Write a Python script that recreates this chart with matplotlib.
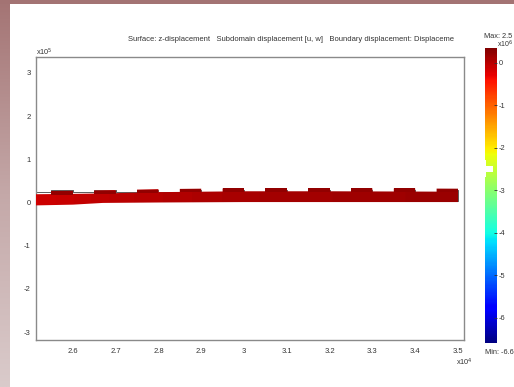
import numpy as np
import matplotlib
matplotlib.use("Agg")
import matplotlib.pyplot as plt
from matplotlib.path import Path
from matplotlib.patches import PathPatch, Rectangle
from matplotlib.colors import Normalize, LinearSegmentedColormap
from matplotlib import cm

plt.rcParams['font.family'] = ['Liberation Sans', 'DejaVu Sans']

# ---- data (x in 1e4, y in 1e5) ----
x_ticks = [2.6, 2.7, 2.8, 2.9, 3.0, 3.1, 3.2, 3.3, 3.4, 3.5]
x_tick_labels = ["2.6", "2.7", "2.8", "2.9", "3", "3.1", "3.2", "3.3", "3.4", "3.5"]
y_ticks = [3, 2, 1, 0, -1, -2, -3]
y_tick_labels = ["3", "2", "1", "0", "-1", "-2", "-3"]

# deformed beam: bottom / top edge along x
beam_x = [2.50, 2.60, 2.67, 2.80, 3.00, 3.20, 3.50]
beam_bottom = [-0.07, -0.05, -0.01, 0.00, 0.01, 0.01, 0.01]
beam_top = [0.19, 0.20, 0.21, 0.24, 0.26, 0.26, 0.25]
# raised pads on top of the beam
pad_start = [2.55, 2.65, 2.75, 2.85, 2.95, 3.05, 3.15, 3.25, 3.35, 3.45]
pad_width = 0.05
pad_height = 0.07
# undeformed outline
ref_bottom = 0.03
ref_top = 0.235
ref_pad = 0.285
# z-displacement colour data along the beam
zdisp_x = [2.50, 2.70, 3.00, 3.50]
zdisp = [-0.15, -0.02, 0.10, 0.18]
pad_zdisp = 0.24

cbar_min, cbar_max = -6.6, 0.35
cbar_ticks = [0, -1, -2, -3, -4, -5, -6]
slider_value = -2.5

W, H = 514, 387
fig = plt.figure(figsize=(W / 100, H / 100), dpi=100)
fig.patch.set_facecolor("white")

# slide frame: top band and shaded left band
fig.patches.append(Rectangle((0, 1 - 4 / H), 1, 4 / H, transform=fig.transFigure,
                             facecolor="#a37373", edgecolor="none", zorder=0))
band = fig.add_axes([0, 0, 10 / W, 1])
grad = np.linspace(0, 1, 256)[:, None]
band_cmap = LinearSegmentedColormap.from_list("band", ["#a47474", "#c4a8a8", "#dacbcb"])
band.imshow(grad, aspect="auto", cmap=band_cmap, extent=[0, 1, 1, 0])
band.set_axis_off()

ax = fig.add_axes([36 / W, 1 - 340 / H, 428 / W, 283 / H])
for s in ax.spines.values():
    s.set_color("#8a8a8a")
    s.set_linewidth(1.0)
ax.set_xticks(x_ticks)
ax.set_xticklabels(x_tick_labels)
ax.set_yticks(y_ticks)
ax.set_yticklabels(y_tick_labels)
ax.tick_params(length=0, labelsize=5.5, labelcolor="#333333")
ax.tick_params(axis="x", pad=6)
ax.tick_params(axis="y", pad=4)

norm = Normalize(cbar_min, cbar_max)
cmap = plt.get_cmap("jet")

# undeformed outline
ox, oy = [2.50], [ref_top]
for p in pad_start:
    ox += [p, p, p + pad_width, p + pad_width]
    oy += [ref_top, ref_pad, ref_pad, ref_top]
ox += [3.50, 3.50, 2.50]
oy += [ref_top, ref_bottom, ref_bottom]
ax.plot(ox, oy, color="#5a5a5a", lw=0.7, zorder=2)

# deformed beam polygon (bottom edge left->right, top edge right->left with pads)
xs_fine = np.linspace(beam_x[0], beam_x[-1], 400)
bot = np.interp(xs_fine, beam_x, beam_bottom)
verts = list(zip(xs_fine, bot))
top_pts = [(3.50, np.interp(3.50, beam_x, beam_top))]
for p in reversed(pad_start):
    a, b = p + pad_width, p
    ya = np.interp(a, beam_x, beam_top)
    yb = np.interp(b, beam_x, beam_top)
    if a < 3.50:
        top_pts.append((a, ya))
    top_pts.append((a, ya + pad_height))
    top_pts.append((b, yb + pad_height))
    top_pts.append((b, yb))
top_pts.append((2.50, np.interp(2.50, beam_x, beam_top)))
verts += top_pts
verts.append(verts[0])
codes = [Path.MOVETO] + [Path.LINETO] * (len(verts) - 2) + [Path.CLOSEPOLY]
beam_path = Path(verts, codes)
patch = PathPatch(beam_path, facecolor="none", edgecolor="none", zorder=3)
ax.add_patch(patch)

field = np.interp(xs_fine, zdisp_x, zdisp)[None, :]
img = ax.imshow(np.vstack([field, field]), cmap=cmap, norm=norm, aspect="auto",
                extent=[2.50, 3.50, -0.1, 0.4], origin="lower",
                interpolation="bilinear", zorder=3)
img.set_clip_path(patch)

# pads slightly darker
for p in pad_start:
    ya = np.interp(p, beam_x, beam_top)
    ax.add_patch(Rectangle((p, ya - 0.01), pad_width, pad_height + 0.01,
                           facecolor=cmap(norm(pad_zdisp)), edgecolor="none", zorder=4))

ax.set_xlim(2.514, 3.514)
ax.set_ylim(-3.185, 3.37)

txtc = "#333333"
fig.text(128 / W, 1 - 41 / H,
         "Surface: z-displacement   Subdomain displacement [u, w]   Boundary displacement: Displaceme",
         fontsize=5.52, color=txtc, ha="left", va="baseline")
fig.text(36 / W, 1 - 55 / H, "x10$^5$", fontsize=5.3, color=txtc, ha="left", va="baseline")
fig.text(456 / W, 1 - 365 / H, "x10$^4$", fontsize=5.3, color=txtc, ha="left", va="baseline")

# colour bar
cax = fig.add_axes([485 / W, 1 - 343 / H, 12 / W, 295 / H])
cb = fig.colorbar(cm.ScalarMappable(norm=norm, cmap=cmap), cax=cax)
cb.outline.set_linewidth(0)
cb.set_ticks(cbar_ticks)
cb.set_ticklabels([str(t) for t in cbar_ticks])
cax.tick_params(direction="in", length=2, width=0.6, color="#333333",
                labelsize=5.3, labelcolor=txtc, pad=1)
# slider marker on the bar
cax.add_patch(Rectangle((-0.2, slider_value - 0.06), 0.85, 0.13, transform=cax.transData,
                        facecolor="white", edgecolor="none", clip_on=False, zorder=5))
cax.add_patch(Rectangle((-0.2, slider_value - 0.2), 0.25, 0.4, transform=cax.transData,
                        facecolor="white", edgecolor="none", clip_on=False, zorder=5))

fig.text(484 / W, 1 - 38 / H, "Max: 2.5", fontsize=5.3, color=txtc, ha="left", va="baseline")
fig.text(497 / W, 1 - 47.5 / H, "x10$^6$", fontsize=5.0, color=txtc, ha="left", va="baseline")
fig.text(485 / W, 1 - 354 / H, "Min: -6.6", fontsize=5.3, color=txtc, ha="left", va="baseline")

fig.savefig("out.png", dpi=100, facecolor="white")
